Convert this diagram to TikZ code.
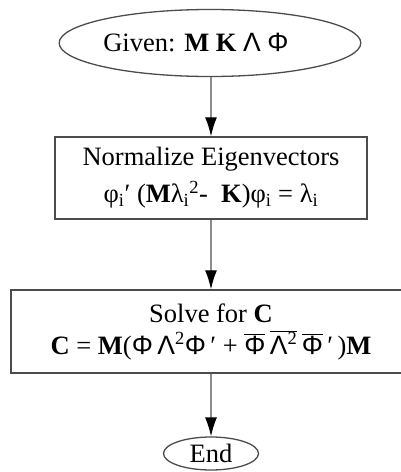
\documentclass[tikz,border=0pt]{standalone}
\usepackage{fontspec}
\setmainfont{Liberation Serif}
\newfontfamily\grkfont{Liberation Sans}
\usetikzlibrary{shapes.geometric, arrows.meta}

\newcommand{\PhiG}{{\grkfont Φ}}
\newcommand{\LamG}{{\grkfont Λ}}
\newcommand{\ovl}[1]{$\overline{\hbox{#1}}$}

\begin{document}
\begin{tikzpicture}[
    x=1pt, y=1pt,
    font=\fontsize{26.5}{32}\selectfont,
    % --- Shape styles ---
    term/.style={ellipse, draw=black!70, line width=1.3pt, inner sep=0pt},
    proc/.style={rectangle, draw=black!70, line width=1.5pt,
        align=center, inner sep=0pt},
    % --- Arrow style ---
    flow/.style={-{Latex[length=19pt, width=12pt, black]},
        draw=black!45, line width=1.3pt},
]
\useasboundingbox (0,0) rectangle (401,-472);

% =============================================
%  Start
% =============================================
\node[term, minimum width=272pt, minimum height=67pt] (given) at (210,-43)
    {Given: \textbf{M K} \LamG{} \PhiG\hspace*{28pt}};

% =============================================
%  Normalize step
% =============================================
\node[proc, minimum width=312pt, minimum height=82pt] (norm) at (211,-178)
    {Normalize Eigenvectors\\[5pt]
     φ\textsubscript{i}′ (\textbf{M}λ\textsubscript{i}\textsuperscript{2}-\ \ \textbf{K})φ\textsubscript{i} = λ\textsubscript{i}};

% =============================================
%  Solve step
% =============================================
\node[proc, minimum width=400pt, minimum height=83pt] (solve) at (211,-331.5)
    {Solve for \textbf{C}\\[0pt]
     \textbf{C} = \textbf{M}(\PhiG\,\LamG\textsuperscript{2}\PhiG\,′ + \ovl{\PhiG}\,\ovl{\LamG\textsuperscript{2}}\,\ovl{\PhiG}\,′\,)\textbf{M}};

% =============================================
%  End
% =============================================
\node[term, minimum width=95pt, minimum height=33pt] (fin) at (211,-453.5) {End};

% =============================================
%  Connections
% =============================================
\draw[flow] (given.south -| norm.north) -- (norm.north);
\draw[flow] (norm.south) -- (solve.north);
\draw[flow] (solve.south) -- (fin.north);

\end{tikzpicture}
\end{document}
